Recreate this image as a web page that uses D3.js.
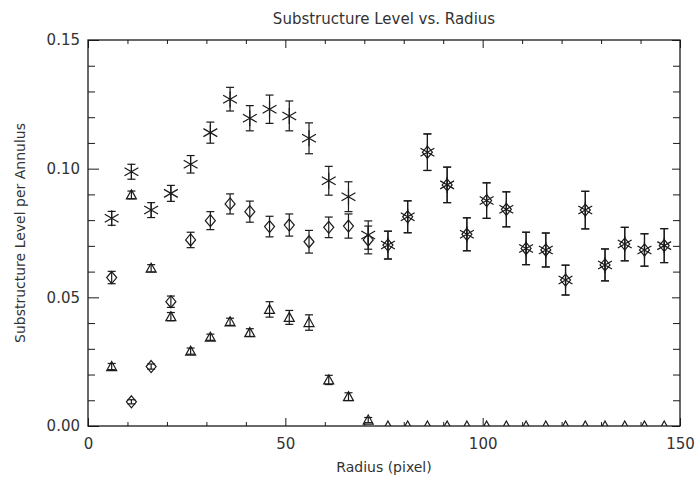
<!DOCTYPE html>
<html>
<head>
<meta charset="utf-8">
<script src="https://cdn.jsdelivr.net/npm/d3@7"></script>
<style>
  body { margin: 0; background: #fff; overflow: hidden; }
  text { font-family: "DejaVu Sans", sans-serif; fill: #333; }
</style>
</head>
<body>
<script>
// radius of each annulus (pixel)
const radius = [6, 11, 16, 21, 26, 31, 36, 41, 46, 51, 56, 61, 66, 71, 76, 81, 86, 91, 96, 101, 106, 111, 116, 121, 126, 131, 136, 141, 146];

// asterisk series
const starVal = [0.0807, 0.0988, 0.0839, 0.0904, 0.1017, 0.1140, 0.1270, 0.1196, 0.1231, 0.1205, 0.1118, 0.0953, 0.0891, 0.0742, 0.0703, 0.0813, 0.1064, 0.0937, 0.0745, 0.0876, 0.0842, 0.0690, 0.0684, 0.0567, 0.0839, 0.0626, 0.0707, 0.0684, 0.0701];
const starErr = [0.0027, 0.0029, 0.0029, 0.0031, 0.0034, 0.0041, 0.0046, 0.0049, 0.0055, 0.0058, 0.0060, 0.0056, 0.0058, 0.0055, 0.0054, 0.0062, 0.0071, 0.0069, 0.0064, 0.0069, 0.0068, 0.0063, 0.0066, 0.0058, 0.0073, 0.0062, 0.0065, 0.0063, 0.0066];

// diamond series
const diaVal = [0.0577, 0.0094, 0.0231, 0.0483, 0.0723, 0.0798, 0.0863, 0.0833, 0.0775, 0.0781, 0.0716, 0.0772, 0.0777, 0.0723, 0.0703, 0.0813, 0.1064, 0.0937, 0.0745, 0.0876, 0.0842, 0.0690, 0.0684, 0.0567, 0.0839, 0.0626, 0.0707, 0.0684, 0.0701];
const diaErr = [0.0024, 0.0008, 0.0010, 0.0022, 0.0030, 0.0035, 0.0039, 0.0041, 0.0040, 0.0043, 0.0044, 0.0040, 0.0047, 0.0054, 0.0054, 0.0062, 0.0071, 0.0069, 0.0064, 0.0069, 0.0068, 0.0063, 0.0066, 0.0058, 0.0073, 0.0062, 0.0065, 0.0063, 0.0066];

// triangle series
const triVal = [0.0231, 0.0898, 0.0613, 0.0425, 0.0291, 0.0345, 0.0405, 0.0363, 0.0453, 0.0422, 0.0402, 0.0179, 0.0114, 0.0023, 0, 0, 0, 0, 0, 0, 0, 0, 0, 0, 0, 0, 0, 0, 0];
const triErr = [0.0012, 0.0015, 0.0014, 0.0016, 0.0012, 0.0012, 0.0014, 0.0015, 0.0030, 0.0027, 0.0030, 0.0018, 0.0015, 0.0010, 0, 0, 0, 0, 0, 0, 0, 0, 0, 0, 0, 0, 0, 0, 0];

const xTicks = [0, 50, 100, 150];
const yTicks = [0.00, 0.05, 0.10, 0.15];

const W = 699, H = 480;
const margin = {top: 40, right: 19, bottom: 54, left: 88};
const width = W - margin.left - margin.right;
const height = H - margin.top - margin.bottom;

const svg = d3.select("body").append("svg")
    .attr("width", W)
    .attr("height", H);

const g = svg.append("g")
    .attr("transform", `translate(${margin.left},${margin.top})`);

const x = d3.scaleLinear().domain([0, 150]).range([0, width]);
const y = d3.scaleLinear().domain([0, 0.15]).range([height, 0]);

const ink = "#1a1a1a";

// clip for markers
svg.append("defs").append("clipPath").attr("id", "plotclip")
    .append("rect").attr("width", width).attr("height", height);

//////////// AXES ////////////

function drawAxis(axis, transform) {
    const a = g.append("g").attr("transform", transform).call(axis);
    a.select(".domain").remove();
    a.selectAll("line").attr("stroke", ink).attr("stroke-width", 1);
    a.selectAll("text").style("font-size", "15px").attr("fill", "#333");
    return a;
}

const xMinor = d3.range(0, 151, 10).filter(v => v % 50 !== 0);
const yMinor = d3.range(0, 0.1501, 0.01).filter(v => Math.abs(v * 100 % 5) > 0.01 && Math.abs(v * 100 % 5 - 5) > 0.01);

// bottom
drawAxis(d3.axisBottom(x).tickValues(xTicks).tickSize(-8).tickPadding(12).tickFormat(d3.format("d")),
    `translate(0,${height})`);
drawAxis(d3.axisBottom(x).tickValues(xMinor).tickSize(-4).tickFormat(""), `translate(0,${height})`);
// top
drawAxis(d3.axisTop(x).tickValues(xTicks).tickSize(-8).tickFormat(""), "translate(0,0)");
drawAxis(d3.axisTop(x).tickValues(xMinor).tickSize(-4).tickFormat(""), "translate(0,0)");
// left
drawAxis(d3.axisLeft(y).tickValues(yTicks).tickSize(-11).tickPadding(8).tickFormat(d3.format(".2f")),
    "translate(0,0)");
drawAxis(d3.axisLeft(y).tickValues(yMinor).tickSize(-7).tickFormat(""), "translate(0,0)");
// right
drawAxis(d3.axisRight(y).tickValues(yTicks).tickSize(-8).tickFormat(""), `translate(${width},0)`);
drawAxis(d3.axisRight(y).tickValues(yMinor).tickSize(-7).tickFormat(""), `translate(${width},0)`);

// frame
g.append("rect")
    .attr("width", width).attr("height", height)
    .attr("fill", "none").attr("stroke", ink).attr("stroke-width", 1.3);

// titles
svg.append("text")
    .attr("x", 384).attr("y", 24)
    .attr("text-anchor", "middle")
    .style("font-size", "15px")
    .text("Substructure Level vs. Radius");

svg.append("text")
    .attr("x", margin.left + width / 2).attr("y", 472)
    .attr("text-anchor", "middle")
    .style("font-size", "14px")
    .text("Radius (pixel)");

svg.append("text")
    .attr("transform", `translate(25,${margin.top + height / 2}) rotate(-90)`)
    .attr("text-anchor", "middle")
    .style("font-size", "14px")
    .text("Substructure Level per Annulus");

//////////// DATA ////////////

const plot = g.append("g").attr("clip-path", "url(#plotclip)");

function series(vals, errs) {
    return radius.map((r, i) => ({r: r, v: vals[i], e: errs[i]}));
}

function errorBars(data) {
    const cap = 4;
    const eb = plot.append("g").attr("stroke", ink).attr("stroke-width", 1.2).attr("fill", "none");
    const sel = eb.selectAll("g").data(data.filter(d => d.e > 0)).join("g");
    sel.append("line")
        .attr("x1", d => x(d.r)).attr("x2", d => x(d.r))
        .attr("y1", d => y(d.v - d.e)).attr("y2", d => y(d.v + d.e));
    sel.append("line")
        .attr("x1", d => x(d.r) - cap).attr("x2", d => x(d.r) + cap)
        .attr("y1", d => y(d.v + d.e)).attr("y2", d => y(d.v + d.e));
    sel.append("line")
        .attr("x1", d => x(d.r) - cap).attr("x2", d => x(d.r) + cap)
        .attr("y1", d => y(d.v - d.e)).attr("y2", d => y(d.v - d.e));
}

function markers(data, pathFn) {
    plot.append("g")
        .attr("stroke", ink).attr("stroke-width", 1.2).attr("fill", "none")
        .selectAll("path").data(data).join("path")
        .attr("transform", d => `translate(${x(d.r)},${y(d.v)})`)
        .attr("d", pathFn);
}

const starPath = () => {
    const r = 8, c = r * Math.cos(Math.PI / 6), s = r * Math.sin(Math.PI / 6);
    return `M0,${-r}L0,${r}M${-c},${-s}L${c},${s}M${-c},${s}L${c},${-s}`;
};
const diamondPath = () => "M0,-6L5,0L0,6L-5,0Z";
const trianglePath = () => "M0,-5L5,4L-5,4Z";

const stars = series(starVal, starErr);
const diamonds = series(diaVal, diaErr);
const triangles = series(triVal, triErr);

errorBars(triangles);
markers(triangles, trianglePath);
errorBars(diamonds);
markers(diamonds, diamondPath);
errorBars(stars);
markers(stars, starPath);
</script>
</body>
</html>
